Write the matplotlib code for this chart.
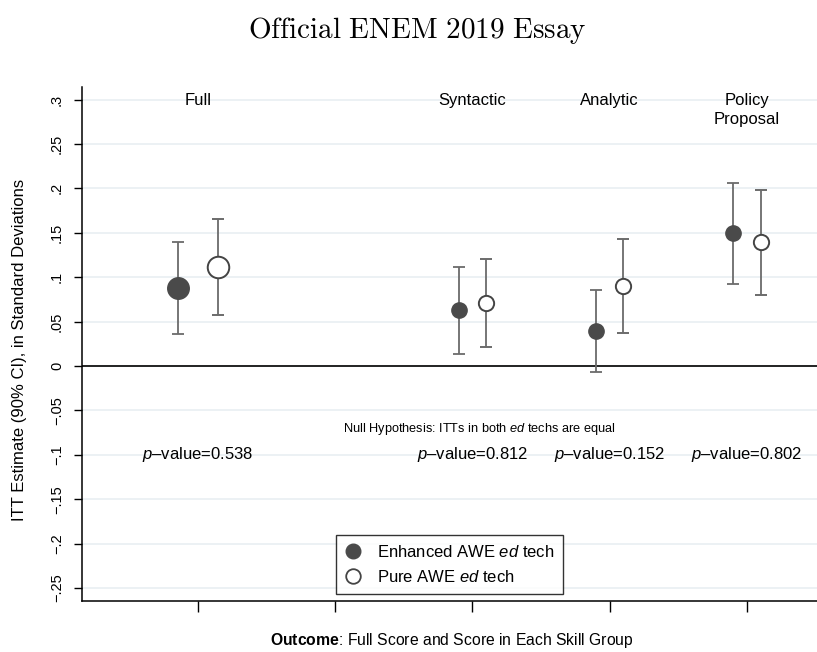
import matplotlib
matplotlib.use("Agg")
import matplotlib.pyplot as plt
from matplotlib.lines import Line2D
import numpy as np

plt.rcParams['font.family'] = ['Liberation Sans', 'DejaVu Sans']
plt.rcParams['mathtext.fontset'] = 'custom'
plt.rcParams['mathtext.rm'] = 'Liberation Sans'
plt.rcParams['mathtext.it'] = 'Liberation Sans:italic'
plt.rcParams['mathtext.bf'] = 'Liberation Sans:bold'

# ---- data ----
groups = ["Full", "Syntactic", "Analytic", "Policy\nProposal"]
group_pos = [1, 3, 4, 5]
enh_est = [0.0875, 0.0627, 0.0394, 0.1494]
enh_lo = [0.0357, 0.0135, -0.0068, 0.0927]
enh_hi = [0.1396, 0.1115, 0.0856, 0.2057]
pure_est = [0.1115, 0.0710, 0.0905, 0.1393]
pure_lo = [0.0570, 0.0210, 0.0375, 0.0803]
pure_hi = [0.1660, 0.1210, 0.1426, 0.1978]
p_values = ["0.538", "0.812", "0.152", "0.802"]
yticks = [0.3, 0.25, 0.2, 0.15, 0.1, 0.05, 0, -0.05, -0.1, -0.15, -0.2, -0.25]
ytick_labels = [".3", ".25", ".2", ".15", ".1", ".05", "0", "\u2212.05", "\u2212.1",
                "\u2212.15", "\u2212.2", "\u2212.25"]
xticks = [1, 2, 3, 4, 5]

fig = plt.figure(figsize=(8.17, 6.52), dpi=100)
ax = fig.add_axes([82/817, 1-601/652, 1-82/817, (601-87)/652])
ax.set_xlim(0.155, 5.51)
ax.set_ylim(-0.2646, 0.3142)

for y in yticks:
    ax.axhline(y, color='#eaf0f3', lw=1.3, zorder=0)
ax.axhline(0, color='black', lw=1.2, zorder=1)

ecol = '#6b6b6b'
mcol = '#4a4a4a'
for i, x in enumerate(group_pos):
    off = 0.146 if i == 0 else 0.1
    ms = 15.5 if i == 0 else 11
    xe = x - off
    xp = x + off
    ax.errorbar([xe], [enh_est[i]], yerr=[[enh_est[i]-enh_lo[i]], [enh_hi[i]-enh_est[i]]],
                fmt='o', color=ecol, ecolor=ecol, elinewidth=1.3, capsize=4, capthick=1.3,
                ms=ms, mfc=mcol, mec=mcol, zorder=3)
    ax.errorbar([xp], [pure_est[i]], yerr=[[pure_est[i]-pure_lo[i]], [pure_hi[i]-pure_est[i]]],
                fmt='o', color=ecol, ecolor=ecol, elinewidth=1.3, capsize=4, capthick=1.3,
                ms=ms, mfc='white', mec='#444444', mew=1.4, zorder=3)
    ax.text(x, 0.308, groups[i], ha='center', va='top', fontsize=12, linespacing=1.35)
    ax.text(x, -0.1, r"$p$" + "\u2013value=" + p_values[i], ha='center', va='center',
            fontsize=12)

ax.text(3.05, -0.071, r"Null Hypothesis: ITTs in both $ed$ techs are equal",
        ha='center', va='center', fontsize=9.2)

ax.set_xticks(xticks)
ax.set_xticklabels([])
ax.tick_params(axis='x', length=8, width=1, color='black')
ax.set_yticks(yticks)
ax.set_yticklabels(ytick_labels, rotation=90, va='center', fontsize=10.5)
ax.tick_params(axis='y', length=6, width=1, color='black', pad=7)

for s in ['top', 'right']:
    ax.spines[s].set_visible(False)
ax.spines['left'].set_linewidth(1.1)
ax.spines['bottom'].set_linewidth(1.1)

fig.text(20/817, 1-350/652, "ITT Estimate (90% CI), in Standard Deviations", fontsize=12,
         rotation=90, ha='center', va='center')
fig.text(452/817, 1-640/652,
         r"$\mathbf{Outcome}$: Full Score and Score in Each Skill Group",
         fontsize=11.3, ha='center', va='center')

handles = [
    Line2D([], [], ls='none', marker='o', ms=10.5, mfc=mcol, mec=mcol),
    Line2D([], [], ls='none', marker='o', ms=10.5, mfc='white', mec='#444444', mew=1.3),
]
leg = ax.legend(handles, [r"Enhanced AWE $ed$ tech", r"Pure AWE $ed$ tech"],
                loc='lower left', bbox_to_anchor=((336-82)/735, 7/514), borderaxespad=0,
                fontsize=12, frameon=True, fancybox=False, edgecolor='black',
                handletextpad=0.95, handlelength=0.95, labelspacing=0.55, borderpad=0.55)
leg.get_frame().set_linewidth(1.0)

fig.text(417/817, 1-30/652, r"$\mathrm{Official\ ENEM\ 2019\ Essay}$", ha='center', va='center',
         fontsize=21, math_fontfamily='cm')

fig.savefig("out.png", dpi=100)
